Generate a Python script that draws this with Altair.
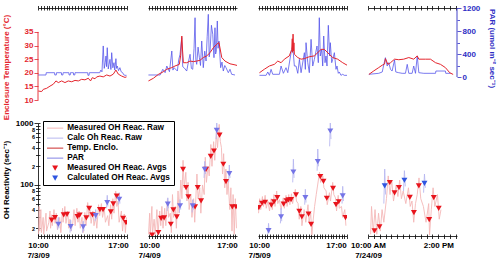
import altair as alt
import pandas as pd

FONT = "Liberation Sans"
RED_T = "#e4252d"
PAR_LINE = "#5252ea"
PAR_AXIS = "#2e2ec4"
TRI_RED = "#e8141c"
TRI_BLUE = "#7474e6"
TRI_BLUE4 = "#2f55e0"
RAW_PINK = "#f4b8b8"
RAW_BLUE = "#b8b8f0"

W, H_TOP, H_BOT = 89, 92, 113
GAP_X, GAP_Y = 21, 23

# ---------------- Day 1 : 7/3/09 ----------------
d1_temp_h = [10.03, 10.32, 10.46, 10.76, 11.05, 11.34, 11.57, 11.78, 12.07, 12.36, 12.65, 12.95, 13.24, 13.53, 13.82,
             14.11, 14.40, 14.60, 14.75, 14.99, 15.14, 15.42, 15.71, 16.01, 16.30, 16.59, 16.82, 17.03, 17.32, 17.61, 17.75]
d1_temp = [13.3, 13.1, 13.9, 14.3, 15.1, 15.8, 17.0, 16.4, 17.0, 16.4, 17.0, 16.7, 17.2, 17.0, 17.6,
           17.4, 18.0, 17.0, 18.2, 17.8, 18.5, 18.8, 18.5, 19.2, 18.8, 19.5, 21.0, 19.5, 18.8, 18.3, 18.5]
d1_par_h = [10.0, 10.7, 10.72, 11.45, 11.47, 11.6, 11.62, 12.05, 12.07, 12.18, 12.2, 12.7, 12.72, 12.82, 12.84, 13.1,
            13.12, 13.22, 13.24, 14.35, 14.37, 14.47, 14.49, 15.4, 15.5, 15.6, 15.71, 15.8, 15.88, 15.95, 16.0, 16.06,
            16.15, 16.22, 16.3, 16.38, 16.45, 16.55, 16.65, 16.72, 16.82, 16.88, 16.94, 17.05, 17.17, 17.28, 17.41,
            17.5, 17.61, 17.75]
d1_par = [35, 35, 75, 75, 35, 35, 75, 75, 35, 35, 75, 75, 35, 35, 75, 75, 35, 35, 75, 75, 30, 30, 75, 75, 120, 90,
          540, 150, 250, 365, 180, 510, 140, 220, 307, 130, 423, 160, 249, 120, 319, 150, 191, 110, 162, 90, 75, 40,
          29, 29]
d1_meas_h = [11.20, 11.49, 12.25, 12.54, 13.46, 13.65, 14.23, 14.48, 14.77, 15.42, 15.69, 16.37, 16.59, 16.89, 17.46, 17.70]
d1_meas = [27.0, 29.7, 32.8, 33.4, 30.8, 32.6, 29.4, 41.8, 33.0, 40.1, 40.1, 36.7, 49.4, 65.9, 28.8, 24.7]
d1_calc_h = [11.78, 12.86, 13.96, 15.05, 16.06, 17.11]
d1_calc = [23.2, 21.2, 21.0, 32.0, 51.8, 58.8]
d1_mraw_h = [10.05, 10.1, 10.15, 10.25, 10.3, 10.45, 10.5, 10.7, 10.75, 10.95, 11.05, 11.1, 11.2, 11.25, 11.4, 11.5,
             11.6, 11.7, 11.9, 12.0, 12.15, 12.2, 12.35, 12.45, 12.6, 12.7, 12.8, 12.9, 13.05, 13.15, 13.25, 13.4,
             13.5, 13.6, 13.7, 13.85, 13.95, 14.1, 14.2, 14.35, 14.45, 14.55, 14.65, 14.8, 14.9, 15.05, 15.15, 15.3,
             15.4, 15.55, 15.65, 15.8, 15.9, 16.1, 16.2, 16.35, 16.45, 16.55, 16.65, 16.8, 16.9, 17.0, 17.1, 17.3,
             17.4, 17.55, 17.65, 17.75]
d1_mraw = [16, 45, 18, 40, 17, 30, 16, 35, 18, 25, 38, 20, 33, 22, 40, 24, 35, 19, 30, 17, 42, 25, 45, 24, 38, 20,
           28, 18, 25, 40, 22, 42, 25, 38, 20, 30, 17, 36, 22, 52, 30, 40, 24, 38, 22, 30, 20, 48, 32, 50, 30, 42,
           25, 32, 22, 48, 28, 60, 35, 80, 45, 55, 25, 38, 18, 34, 17, 30]
d1_craw_seg = [0, 0, 0, 1, 1, 1, 2, 2, 2, 3, 3, 3, 4, 4, 4, 5, 5, 5]
d1_craw_h = [11.72, 11.78, 11.84, 12.8, 12.86, 12.92, 13.9, 13.96, 14.02, 14.99, 15.05, 15.11, 16.0, 16.06, 16.12,
             17.05, 17.11, 17.17]
d1_craw = [19, 30, 20, 17, 27, 18, 17, 26, 18, 26, 40, 28, 42, 68, 45, 48, 75, 50]

# ---------------- Day 2 : 7/4/09 ----------------
d2_temp_h = [9.94, 10.39, 10.83, 11.28, 11.59, 12.04, 12.33, 12.72, 12.83, 12.94, 13.01, 13.08, 13.38, 13.68, 13.98,
             14.28, 14.58, 14.87, 15.18, 15.48, 15.77, 16.08, 16.28, 16.53, 16.82, 17.27, 17.72, 17.9]
d2_temp = [17.0, 18.0, 19.4, 20.4, 21.3, 21.9, 22.5, 23.1, 26.2, 33.5, 28.0, 23.7, 23.7, 24.3, 24.1,
           24.3, 24.6, 25.6, 26.2, 27.4, 29.2, 30.5, 31.1, 25.6, 24.3, 23.3, 22.9, 22.7]
d2_par_h = [9.94, 10.99, 11.23, 11.44, 11.59, 11.83, 12.04, 12.14, 12.24, 12.54, 12.66, 12.78, 12.93, 13.02, 13.14,
            13.38, 13.52, 13.68, 13.80, 13.92, 14.04, 14.13, 14.20, 14.28, 14.40, 14.52, 14.62, 14.73, 14.87, 15.00,
            15.12, 15.22, 15.32, 15.40, 15.48, 15.60, 15.72, 15.83, 15.92, 15.98, 16.04, 16.13, 16.20, 16.28, 16.43,
            16.55, 16.67, 16.80, 16.91, 17.12, 17.27, 17.42, 17.72]
d2_par = [35, 35, 134, 75, 191, 92, 452, 120, 162, 104, 300, 395, 684, 180, 162, 104, 250, 395, 150, 134, 500, 1031,
          300, 220, 520, 336, 200, 626, 162, 450, 278, 700, 1090, 350, 452, 900, 743, 336, 857, 400, 452, 974, 500,
          626, 162, 260, 104, 200, 162, 75, 134, 47, 35]
d2_meas_h = [10.27, 10.83, 11.08, 11.35, 11.95, 12.18, 12.49, 13.05, 13.32, 13.53, 14.13, 14.37, 14.67, 15.12, 15.54,
             15.83, 16.33, 16.67, 16.91, 17.48, 17.81]
d2_meas = [15.5, 17.0, 28.8, 29.4, 23.2, 39.5, 30.5, 178, 90.4, 64.0, 44.2, 90.4, 55.2, 179, 290, 353, 635, 216, 113,
           44.2, 44.2]
d2_calc_h = [11.68, 12.78, 13.92, 15.0, 16.08, 17.21]
d2_calc = [48.9, 45.9, 45.9, 179, 763, 152]
d2_mraw_h = [9.95, 10.05, 10.1, 10.25, 10.3, 10.45, 10.55, 10.7, 10.8, 10.95, 11.05, 11.15, 11.25, 11.4, 11.5, 11.65,
             11.75, 11.9, 12.0, 12.1, 12.2, 12.35, 12.45, 12.6, 12.7, 12.85, 12.95, 13.05, 13.15, 13.3, 13.4, 13.5,
             13.6, 13.75, 13.85, 14.0, 14.1, 14.3, 14.4, 14.55, 14.65, 14.8, 14.95, 15.05, 15.15, 15.3, 15.4, 15.55,
             15.65, 15.8, 15.9, 16.05, 16.15, 16.3, 16.4, 16.5, 16.6, 16.7, 16.8, 16.9, 17.0, 17.1, 17.25, 17.35,
             17.45, 17.55, 17.65, 17.75, 17.85]
d2_mraw = [16, 35, 15.5, 45, 16, 28, 15.5, 40, 16, 38, 22, 45, 20, 42, 22, 60, 30, 35, 17, 70, 30, 45, 20, 80, 35,
           120, 60, 250, 90, 160, 55, 110, 40, 70, 30, 60, 25, 150, 60, 90, 35, 100, 70, 280, 110, 200, 140, 450,
           200, 500, 250, 700, 400, 950, 500, 400, 150, 320, 90, 180, 70, 120, 40, 90, 18, 70, 16, 60, 20]
d2_craw_seg = [0, 0, 0, 1, 1, 1, 2, 2, 2, 3, 3, 3, 4, 4, 4, 5, 5, 5]
d2_craw_h = [11.62, 11.68, 11.74, 12.72, 12.78, 12.84, 13.86, 13.92, 13.98, 14.94, 15.0, 15.06, 16.02, 16.08, 16.14,
             17.15, 17.21, 17.27]
d2_craw = [38, 62, 42, 36, 58, 40, 36, 58, 40, 130, 240, 150, 550, 1000, 650, 110, 210, 130]

# ---------------- Day 3 : 7/5/09 ----------------
d3_temp_h = [10.03, 10.48, 10.94, 11.39, 11.70, 12.0, 12.30, 12.75, 12.97, 13.02, 13.05, 13.09, 13.13, 13.17, 13.21,
             13.52, 13.82, 14.12, 14.57, 15.03, 15.34, 15.64, 15.94, 16.39, 16.70, 17.15, 17.61, 18.0]
d3_temp = [20.0, 21.3, 22.5, 23.1, 24.3, 23.7, 25.0, 26.2, 28.6, 32.5, 27.5, 34.2, 28.0, 31.0, 26.8,
           25.6, 25.0, 25.2, 25.9, 26.2, 27.4, 28.6, 28.6, 26.8, 25.6, 25.0, 23.7, 22.8]
d3_par_h = [10.03, 10.64, 10.79, 10.94, 11.09, 11.24, 11.85, 12.0, 12.21, 12.45, 12.61, 12.91, 13.06, 13.21, 13.36,
            13.52, 13.67, 13.82, 14.12, 14.21, 14.27, 14.43, 14.57, 14.73, 14.88, 15.03, 15.27, 15.39, 15.48, 15.57,
            15.70, 15.79, 15.88, 16.0, 16.09, 16.18, 16.3, 16.42, 16.48, 16.61, 16.70, 16.85, 17.0, 17.09, 17.21,
            17.30, 17.45, 17.61, 17.75, 18.0]
d3_par = [29, 29, 87, 29, 133, 47, 47, 191, 64, 162, 75, 423, 539, 191, 191, 64, 307, 75, 423, 133, 597, 249, 75, 655,
          191, 307, 539, 249, 1031, 365, 481, 191, 713, 249, 365, 191, 899, 365, 597, 249, 307, 423, 133, 191, 64,
          87, 29, 47, 29, 29]
d3_meas_h = [9.98, 10.27, 10.55, 11.12, 11.36, 11.66, 12.23, 12.50, 12.68, 12.91, 13.36, 13.66, 13.89, 14.50, 14.73,
             15.57, 15.86, 16.16, 16.73, 17.0, 17.25, 17.86]
d3_meas = [43.1, 50.7, 52.6, 47.1, 53.6, 62.4, 48.9, 55.2, 57.3, 58.0, 69.0, 37.4, 30.5, 33.7, 23.1, 136, 114, 61.0,
           87.9, 48.1, 53.6, 29.7]
d3_calc_h = [10.86, 12.0, 13.12, 14.21, 15.34, 16.48, 17.61]
d3_calc = [18.3, 30.7, 162, 62.4, 238, 743, 66.5]
d3_mraw_h = [9.95, 10.05, 10.15, 10.3, 10.4, 10.55, 10.65, 10.8, 10.95, 11.1, 11.2, 11.35, 11.45, 11.6, 11.7, 11.85,
             12.0, 12.2, 12.3, 12.45, 12.55, 12.7, 12.8, 12.95, 13.05, 13.3, 13.4, 13.55, 13.65, 13.8, 13.9, 14.1,
             14.25, 14.45, 14.55, 14.7, 14.8, 14.9, 15.05, 15.2, 15.5, 15.6, 15.8, 15.9, 16.1, 16.2, 16.4, 16.5, 16.7,
             16.8, 16.95, 17.05, 17.2, 17.3, 17.5, 17.6, 17.8, 17.9]
d3_mraw = [35, 60, 40, 65, 45, 68, 42, 55, 38, 60, 40, 70, 45, 80, 50, 58, 40, 62, 42, 68, 45, 70, 48, 72, 50, 85, 55,
           50, 28, 45, 22, 40, 25, 48, 25, 35, 15.5, 25, 45, 70, 160, 110, 140, 90, 80, 48, 75, 55, 110, 70, 62, 38,
           68, 42, 45, 30, 40, 22]
d3_craw_seg = [0, 0, 0, 1, 1, 1, 2, 2, 2, 3, 3, 3, 4, 4, 4, 5, 5, 5, 6, 6, 6]
d3_craw_h = [10.8, 10.86, 10.92, 11.94, 12.0, 12.06, 13.06, 13.12, 13.18, 14.15, 14.21, 14.27, 15.28, 15.34, 15.4,
             16.42, 16.48, 16.54, 17.55, 17.61, 17.67]
d3_craw = [16, 24, 17, 24, 42, 26, 110, 260, 130, 48, 85, 52, 170, 380, 200, 420, 1000, 550, 50, 95, 55]

# ---------------- Day 4 : 7/24/09 ----------------
d4_temp_h = [10.05, 10.33, 10.61, 10.81, 10.94, 10.99, 11.05, 11.13, 11.28, 11.51, 11.75, 12.03, 12.32, 12.60, 12.80,
             12.89, 13.27, 13.55, 13.84, 14.12, 14.40, 14.65, 14.84]
d4_temp = [19.4, 20.7, 21.9, 22.8, 23.2, 25.2, 24.3, 23.1, 23.7, 25.0, 24.8, 25.0, 25.6, 25.0, 26.2,
           25.0, 25.0, 25.0, 23.7, 23.1, 21.9, 20.0, 19.4]
d4_par_h = [10.05, 10.61, 10.81, 10.90, 10.99, 11.09, 11.18, 11.28, 11.37, 11.51, 11.58, 11.75, 11.94, 12.13, 12.23,
            12.32, 12.51, 12.60, 12.70, 12.80, 12.89, 13.17, 13.84, 13.86, 14.40, 14.42, 14.69]
d4_par = [47, 64, 87, 220, 336, 191, 249, 134, 104, 296, 87, 75, 64, 64, 220, 64, 64, 191, 64, 365, 75, 64, 64, 104,
          104, 64, 64]
d4_meas_h = [10.37, 10.65, 11.24, 11.51, 11.76, 12.38, 12.61, 12.89, 13.48, 13.74, 14.02]
d4_meas = [18.1, 21.0, 109, 74.3, 90.4, 63.1, 35.7, 96.3, 27.6, 62.4, 41.8]
d4_calc_h = [10.95, 12.07, 13.21]
d4_calc = [96.3, 119, 106]
d4_mraw_h = [10.15, 10.2, 10.3, 10.4, 10.5, 10.6, 10.7, 10.8, 10.9, 11.05, 11.15, 11.25, 11.35, 11.45, 11.6, 11.7,
             11.8, 11.9, 12.0, 12.15, 12.3, 12.4, 12.5, 12.6, 12.7, 12.8, 12.9, 13.0, 13.15, 13.3, 13.45, 13.5, 13.6,
             13.7, 13.8, 13.95, 14.05, 14.15]
d4_mraw = [16, 45, 17, 40, 16, 35, 18, 40, 25, 60, 140, 70, 120, 55, 100, 65, 120, 60, 80, 50, 90, 45, 55, 25, 50, 70,
           130, 60, 45, 25, 50, 15.5, 40, 90, 45, 70, 28, 40]
d4_craw_seg = [0, 0, 0, 1, 1, 1, 2, 2, 2]
d4_craw_h = [10.9, 10.95, 11.0, 12.02, 12.07, 12.12, 13.16, 13.21, 13.26]
d4_craw = [50, 180, 70, 80, 170, 95, 75, 150, 90]

# ---------------- panel / axis settings ----------------
DATES = ["7/3/09", "7/4/09", "7/5/09", "7/24/09"]
FIRST_LABEL = ["10:00", "10:00", "10:00", "10:00 AM"]
LAST_LABEL = ["17:00", "17:00", "17:00", "2:00 PM"]
LAST_HOUR = [17, 17, 17, 14]
X_DOMAINS = [[10.0, 17.79], [9.9, 17.9], [9.9, 18.0], [10.0, 15.06]]
TICK_COUNT = [32, 32, 33, 16]
TICK_STEP = [0.25, 0.25, 0.25, 1.0 / 3.0]
TEMP_TICKS = [10, 15, 20, 25, 30, 35]
PAR_TICKS = [0, 200, 400, 600, 800, 1000, 1200]

SERIES = ["Measured OH Reac. Raw", "Calc Oh Reac. Raw", "Temp. Enclo.", "PAR",
          "Measured OH Reac. Avgs", "Calculated OH Reac. Avgs"]
SERIES_COLORS = [RAW_PINK, RAW_BLUE, "#cc3030", "#8585e6", TRI_RED, TRI_BLUE4]
LINE_SHAPE = "M-2.7,-0.17H2.7V0.17H-2.7Z"
SERIES_SHAPES = [LINE_SHAPE, LINE_SHAPE, LINE_SHAPE, LINE_SHAPE, "triangle-down", "triangle-down"]

LOG_TICKS = [20, 30, 40, 50, 60, 70, 80, 90, 100, 200, 300, 400, 500, 600, 700, 800, 900, 1000]
LOG_MAJOR = "datum.value == 100 || datum.value == 1000"
LOG_LABELS = ("datum.value == 1000 ? '1000' : (datum.value == 100 ? '100' : "
              "(indexof([20, 40, 60, 80, 200, 400, 600, 800], datum.value) >= 0 ? "
              "slice(toString(datum.value), 0, 1) : ''))")


def cond(test, a, b):
    return {"condition": {"test": test, "value": a}, "value": b}


def x_ticks(i):
    return [10 + k * TICK_STEP[i] for k in range(TICK_COUNT[i])]


def label_expr(i):
    return ("abs(datum.value - 10) < 0.01 ? ['%s', '%s'] : (abs(datum.value - %d) < 0.01 ? '%s' : '')"
            % (FIRST_LABEL[i], DATES[i], LAST_HOUR[i], LAST_LABEL[i]))


def tick_axis(orient, values, size, offset=0, domain=True):
    return alt.Axis(orient=orient, values=values, labels=False, domain=domain, domainColor="black",
                    domainWidth=0.8, tickColor="black", tickWidth=0.8, tickSize=size, offset=offset,
                    grid=False, title=None)


def top_chart(i, th, tv, ph, pv):
    xs = alt.Scale(domain=X_DOMAINS[i], nice=False, zero=False)
    ticks = x_ticks(i)
    one = pd.DataFrame({"a": [0]})

    if i == 0:
        t_axis = alt.Axis(orient="left", values=TEMP_TICKS, domain=False, tickColor=RED_T,
                          tickSize=4, tickWidth=0.8, labelColor=RED_T, labelFont=FONT, labelFontWeight="bold",
                          labelFontSize=8, labelPadding=1, labelOverlap=False, labelBound=False,
                          title="Enclosure Temperature (°C)", titleColor=RED_T,
                          titleFont=FONT, titleFontWeight="bold", titleFontSize=8, titlePadding=14, titleY=59,
                          grid=False)
    else:
        t_axis = None
    if i == 3:
        p_axis = alt.Axis(orient="right", values=PAR_TICKS, domain=False,
                          labelExpr="datum.value % 400 == 0 ? toString(datum.value) : ''",
                          tickSize=cond("datum.value % 400 == 0", 4, 2.5), tickColor=PAR_AXIS, tickWidth=0.8,
                          labelColor=PAR_AXIS, labelFont=FONT, labelFontWeight="bold", labelFontSize=8,
                          labelPadding=1, labelOverlap=False, labelBound=False,
                          title="PAR (umol m⁻²  sec⁻¹)", titleColor=PAR_AXIS, titleFont=FONT,
                          titleFontWeight="bold", titleFontSize=8, titlePadding=8, titleY=40, grid=False)
    else:
        p_axis = None

    layers = [
        alt.Chart(pd.DataFrame({"h": ph, "par": pv})).mark_line(
            color=PAR_LINE, strokeWidth=0.9, opacity=0.85, clip=True).encode(
            x=alt.X("h:Q", scale=xs, axis=tick_axis("top", ticks, 2, offset=-2, domain=False)),
            y=alt.Y("par:Q", scale=alt.Scale(domain=[-400, 1200], nice=False, zero=False), axis=p_axis)),
        alt.Chart(pd.DataFrame({"h": th, "temp": tv})).mark_line(
            color=RED_T, strokeWidth=1, clip=True).encode(
            x=alt.X("h:Q", scale=xs, axis=tick_axis("top", ticks, 2.5)),
            y=alt.Y("temp:Q", scale=alt.Scale(domain=[10, 43.8], nice=False, zero=False), axis=t_axis)),
    ]
    if i == 3:
        layers.append(alt.Chart(one).mark_rule(color=PAR_AXIS, strokeWidth=0.9).encode(
            x=alt.value(W),
            y=alt.Y(datum=PAR_TICKS[0], scale=alt.Scale(domain=[-400, 1200], nice=False, zero=False), axis=None),
            y2=alt.Y2(datum=PAR_TICKS[-1])))
    if i == 0:
        layers.append(alt.Chart(one).mark_rule(color=RED_T, strokeWidth=0.9).encode(
            x=alt.value(0),
            y=alt.Y(datum=TEMP_TICKS[0], scale=alt.Scale(domain=[10, 43.8], nice=False, zero=False), axis=None),
            y2=alt.Y2(datum=TEMP_TICKS[-1])))

    return alt.layer(*layers).resolve_scale(y="independent").resolve_axis(
        x="independent", y="independent").properties(width=W, height=H_TOP)


def bottom_chart(i, mh, mv, ch, cv, rh, rv, cs, crh, crv, tri_blue):
    xs = alt.Scale(domain=X_DOMAINS[i], nice=False, zero=False)
    ys = alt.Scale(type="log", domain=[15, 1000], nice=False)
    ticks = x_ticks(i)
    x_main = alt.Axis(orient="bottom", values=ticks, labelExpr=label_expr(i), domainColor="black",
                      domainWidth=0.8, tickColor="black", tickWidth=0.8, tickSize=2.5, labelFont=FONT,
                      labelFontWeight="bold", labelFontSize=8, labelColor="black", labelPadding=3,
                      labelLineHeight=10, labelAlign="center", labelFlush=False, labelOverlap=False,
                      labelBound=False, grid=False, title=None)
    x_in = tick_axis("bottom", ticks, 2, offset=-2, domain=False)
    if i == 0:
        y_main = alt.Axis(orient="left", values=LOG_TICKS, labelExpr=LOG_LABELS,
                          labelFontSize=cond(LOG_MAJOR, 8, 5.5), tickSize=cond(LOG_MAJOR, 4, 2.5),
                          domainColor="black", domainWidth=0.8, tickColor="black", tickWidth=0.8,
                          labelFont=FONT, labelFontWeight="bold", labelColor="black", labelPadding=1,
                          labelOverlap=False, labelBound=False, title="OH Reactivity (sec⁻¹)", titleFont=FONT,
                          titleFontWeight="bold", titleFontSize=8, titleColor="black", titlePadding=5,
                          grid=False)
        y_in = tick_axis("left", LOG_TICKS, 2, offset=-2, domain=False)
    else:
        y_main = None
        y_in = None

    mraw = alt.Chart(pd.DataFrame({"h": rh, "v": rv})).mark_line(
        color=RAW_PINK, strokeWidth=0.9, clip=True).encode(
        x=alt.X("h:Q", scale=xs, axis=x_main), y=alt.Y("v:Q", scale=ys, axis=y_main))
    craw = alt.Chart(pd.DataFrame({"seg": cs, "h": crh, "v": crv})).mark_line(
        color=RAW_BLUE, strokeWidth=0.9, clip=True).encode(
        x=alt.X("h:Q", scale=xs, axis=x_in), y=alt.Y("v:Q", scale=ys, axis=y_in), detail="seg:N")
    mavg = alt.Chart(pd.DataFrame({"h": mh, "v": mv})).mark_point(
        shape="triangle-down", filled=True, color=TRI_RED, size=36, opacity=1, clip=True).encode(
        x=alt.X("h:Q", scale=xs, axis=None), y=alt.Y("v:Q", scale=ys, axis=None))
    cavg = alt.Chart(pd.DataFrame({"h": ch, "v": cv})).mark_point(
        shape="triangle-down", filled=True, color=tri_blue, size=36, opacity=1, clip=True).encode(
        x=alt.X("h:Q", scale=xs, axis=None), y=alt.Y("v:Q", scale=ys, axis=None))
    layers = [mraw, craw, mavg, cavg]

    if i == 0:
        leg = alt.Legend(orient="none", legendX=5, legendY=113, title=None, direction="vertical",
                         strokeColor="black", fillColor="white", padding=3, labelFont=FONT,
                         labelFontWeight="bold", labelFontSize=8.25, labelColor="black", labelLimit=400,
                         symbolOpacity=1, symbolSize=36, symbolStrokeWidth=0, rowPadding=1, labelOffset=8,
                         symbolOffset=5, cornerRadius=0)
        dummy = alt.Chart(pd.DataFrame({"series": SERIES})).mark_point(filled=True, opacity=0).encode(
            color=alt.Color("series:N", scale=alt.Scale(domain=SERIES, range=SERIES_COLORS), legend=leg),
            shape=alt.Shape("series:N", scale=alt.Scale(domain=SERIES, range=SERIES_SHAPES), legend=leg))
        layers.append(dummy)

    return alt.layer(*layers).resolve_axis(x="independent", y="independent").properties(width=W, height=H_BOT)


tops = [
    top_chart(0, d1_temp_h, d1_temp, d1_par_h, d1_par),
    top_chart(1, d2_temp_h, d2_temp, d2_par_h, d2_par),
    top_chart(2, d3_temp_h, d3_temp, d3_par_h, d3_par),
    top_chart(3, d4_temp_h, d4_temp, d4_par_h, d4_par),
]
bottoms = [
    bottom_chart(0, d1_meas_h, d1_meas, d1_calc_h, d1_calc, d1_mraw_h, d1_mraw, d1_craw_seg, d1_craw_h, d1_craw,
                 TRI_BLUE),
    bottom_chart(1, d2_meas_h, d2_meas, d2_calc_h, d2_calc, d2_mraw_h, d2_mraw, d2_craw_seg, d2_craw_h, d2_craw,
                 TRI_BLUE),
    bottom_chart(2, d3_meas_h, d3_meas, d3_calc_h, d3_calc, d3_mraw_h, d3_mraw, d3_craw_seg, d3_craw_h, d3_craw,
                 TRI_BLUE),
    bottom_chart(3, d4_meas_h, d4_meas, d4_calc_h, d4_calc, d4_mraw_h, d4_mraw, d4_craw_seg, d4_craw_h, d4_craw,
                 TRI_BLUE4),
]

chart = alt.concat(*tops, *bottoms, columns=4).properties(
    spacing={"row": GAP_Y, "column": GAP_X}, bounds="flush",
    padding={"left": 1, "top": 3, "right": 0, "bottom": 0}, background="white"
).configure_view(stroke="transparent")

chart.save("out.html", embed_options={"renderer": "svg", "actions": False})
